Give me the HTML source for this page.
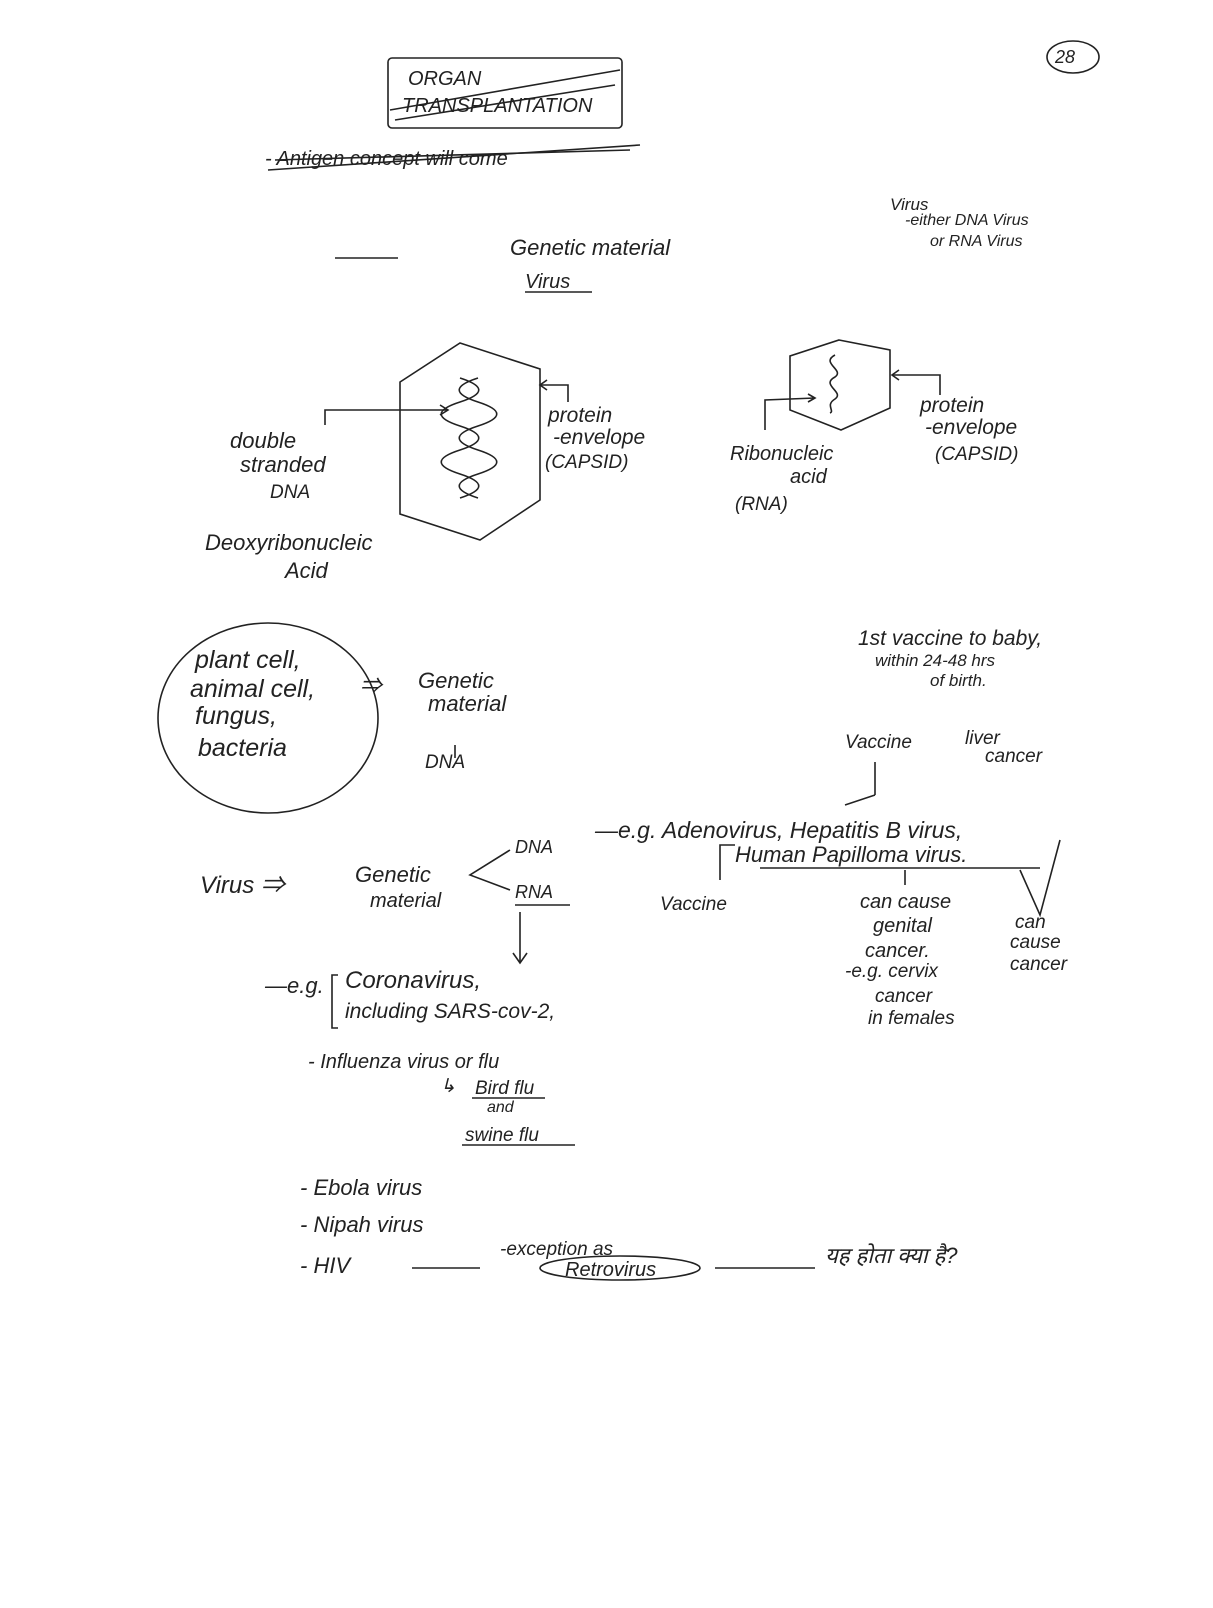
<!DOCTYPE html>
<html><head><meta charset="utf-8"><style>
html,body{margin:0;padding:0;background:#fff}
svg text{font-family:"Liberation Sans","Noto Sans CJK SC",sans-serif;font-style:italic;fill:#222}
</style></head><body>
<svg width="1213" height="1603" viewBox="0 0 1213 1603" xmlns="http://www.w3.org/2000/svg" font-size="20">
<rect width="1213" height="1603" fill="#fff"/>
<g stroke="#222" stroke-width="1.6" fill="none">
<ellipse cx="1073" cy="57" rx="26" ry="16"/>
<rect x="388" y="58" width="234" height="70" rx="4"/>
<line x1="390" y1="110" x2="620" y2="70"/>
<line x1="395" y1="120" x2="615" y2="85"/>
<line x1="268" y1="170" x2="640" y2="145"/>
<line x1="275" y1="160" x2="630" y2="150"/>
<line x1="335" y1="258" x2="398" y2="258"/>
<line x1="525" y1="292" x2="592" y2="292"/>
<!-- left hexagon -->
<polygon points="460,343 540,369 540,500 480,540 400,514 400,382"/>
<path d="M460,378 c25,8 25,16 0,24 c-25,8 -25,16 0,24 c25,8 25,16 0,24 c-25,8 -25,16 0,24 c25,8 25,16 0,24"/>
<path d="M478,378 c-25,8 -25,16 0,24 c25,8 25,16 0,24 c-25,8 -25,16 0,24 c25,8 25,16 0,24 c-25,8 -25,16 0,24"/>
<polyline points="325,425 325,410 448,410"/>
<polyline points="440,405 448,410 440,415"/>
<polyline points="568,402 568,385 540,385"/>
<polyline points="547,380 540,385 547,390"/>
<!-- right hexagon -->
<polygon points="839,340 890,350 890,408 841,430 790,410 790,356"/>
<path d="M835,355 c-15,8 10,15 0,22 c-15,8 10,15 0,22 c-10,6 0,12 -5,14"/>
<polyline points="940,395 940,375 892,375"/>
<polyline points="899,370 892,375 899,380"/>
<polyline points="765,430 765,400 815,398"/>
<polyline points="808,394 815,398 808,402"/>
<ellipse cx="268" cy="718" rx="110" ry="95"/>
<line x1="455" y1="745" x2="455" y2="758"/>
<line x1="875" y1="762" x2="875" y2="795"/>
<polyline points="845,805 875,795"/>
<polyline points="720,880 720,845 735,845"/>
<line x1="760" y1="868" x2="1040" y2="868"/>
<line x1="905" y1="870" x2="905" y2="885"/>
<polyline points="1020,870 1040,915 1060,840"/>
<polyline points="510,850 470,875 510,890"/>
<line x1="515" y1="905" x2="570" y2="905"/>
<line x1="520" y1="912" x2="520" y2="962"/>
<polyline points="513,953 520,963 527,953"/>
<polyline points="338,975 332,975 332,1028 338,1028"/>
<line x1="472" y1="1098" x2="545" y2="1098"/>
<line x1="462" y1="1145" x2="575" y2="1145"/>
<line x1="412" y1="1268" x2="480" y2="1268"/>
<ellipse cx="620" cy="1268" rx="80" ry="12"/>
<line x1="715" y1="1268" x2="815" y2="1268"/>
</g>
<text x="1055" y="63" font-size="18">28</text>
<text x="408" y="85" font-size="20" font-style="normal">ORGAN</text>
<text x="402" y="112" font-size="20" font-style="normal">TRANSPLANTATION</text>
<text x="265" y="165">- Antigen concept will come</text>
<text x="890" y="210" font-size="17">Virus</text>
<text x="905" y="225" font-size="16">-either DNA Virus</text>
<text x="930" y="246" font-size="16">or RNA Virus</text>
<text x="510" y="255" font-size="22">Genetic material</text>
<text x="525" y="288">Virus</text>
<text x="548" y="422" font-size="21">protein</text>
<text x="553" y="444" font-size="21">-envelope</text>
<text x="545" y="468" font-size="19" font-style="normal">(CAPSID)</text>
<text x="230" y="448" font-size="22">double</text>
<text x="240" y="472" font-size="22">stranded</text>
<text x="270" y="498" font-size="19" font-style="normal">DNA</text>
<text x="205" y="550" font-size="22">Deoxyribonucleic</text>
<text x="285" y="578" font-size="22">Acid</text>
<text x="920" y="412" font-size="21">protein</text>
<text x="925" y="434" font-size="21">-envelope</text>
<text x="935" y="460" font-size="19" font-style="normal">(CAPSID)</text>
<text x="730" y="460" font-size="20">Ribonucleic</text>
<text x="790" y="483" font-size="20">acid</text>
<text x="735" y="510" font-size="19" font-style="normal">(RNA)</text>
<text x="195" y="668" font-size="25">plant cell,</text>
<text x="190" y="697" font-size="25">animal cell,</text>
<text x="195" y="724" font-size="25">fungus,</text>
<text x="198" y="756" font-size="25">bacteria</text>
<text x="360" y="693" font-size="22" font-style="normal">⇒</text>
<text x="418" y="688" font-size="22">Genetic</text>
<text x="428" y="711" font-size="22">material</text>
<text x="425" y="768" font-size="19" font-style="normal">DNA</text>
<text x="858" y="645" font-size="21">1st vaccine to baby,</text>
<text x="875" y="666" font-size="17">within 24-48 hrs</text>
<text x="930" y="686" font-size="17">of birth.</text>
<text x="845" y="748" font-size="19">Vaccine</text>
<text x="965" y="744" font-size="19">liver</text>
<text x="985" y="762" font-size="19">cancer</text>
<text x="200" y="893" font-size="24">Virus ⇒</text>
<text x="355" y="882" font-size="22">Genetic</text>
<text x="370" y="907" font-size="20">material</text>
<text x="515" y="853" font-size="18" font-style="normal">DNA</text>
<text x="515" y="898" font-size="18" font-style="normal">RNA</text>
<text x="595" y="838" font-size="23">—e.g. Adenovirus, Hepatitis B virus,</text>
<text x="735" y="862" font-size="22">Human Papilloma virus.</text>
<text x="660" y="910" font-size="19">Vaccine</text>
<text x="860" y="908" font-size="20">can cause</text>
<text x="873" y="932" font-size="20">genital</text>
<text x="865" y="957" font-size="20">cancer.</text>
<text x="845" y="977" font-size="19">-e.g. cervix</text>
<text x="875" y="1002" font-size="19">cancer</text>
<text x="868" y="1024" font-size="19">in females</text>
<text x="1015" y="928" font-size="19">can</text>
<text x="1010" y="948" font-size="19">cause</text>
<text x="1010" y="970" font-size="19">cancer</text>
<text x="265" y="993" font-size="22">—e.g.</text>
<text x="345" y="988" font-size="24">Coronavirus,</text>
<text x="345" y="1018" font-size="21">including SARS-cov-2,</text>
<text x="308" y="1068" font-size="20">-  Influenza virus or flu</text>
<text x="440" y="1092" font-size="19" font-style="normal">↳</text>
<text x="475" y="1094" font-size="19">Bird flu</text>
<text x="487" y="1112" font-size="16">and</text>
<text x="465" y="1141" font-size="19">swine flu</text>
<text x="300" y="1195" font-size="22">-  Ebola virus</text>
<text x="300" y="1232" font-size="22">-  Nipah virus</text>
<text x="300" y="1273" font-size="22" font-style="normal">-  HIV</text>
<text x="500" y="1255" font-size="19">-exception as</text>
<text x="565" y="1276" font-size="20">Retrovirus</text>
<text x="825" y="1263" font-size="22">यह होता क्या है?</text>
</svg>
</body></html>
